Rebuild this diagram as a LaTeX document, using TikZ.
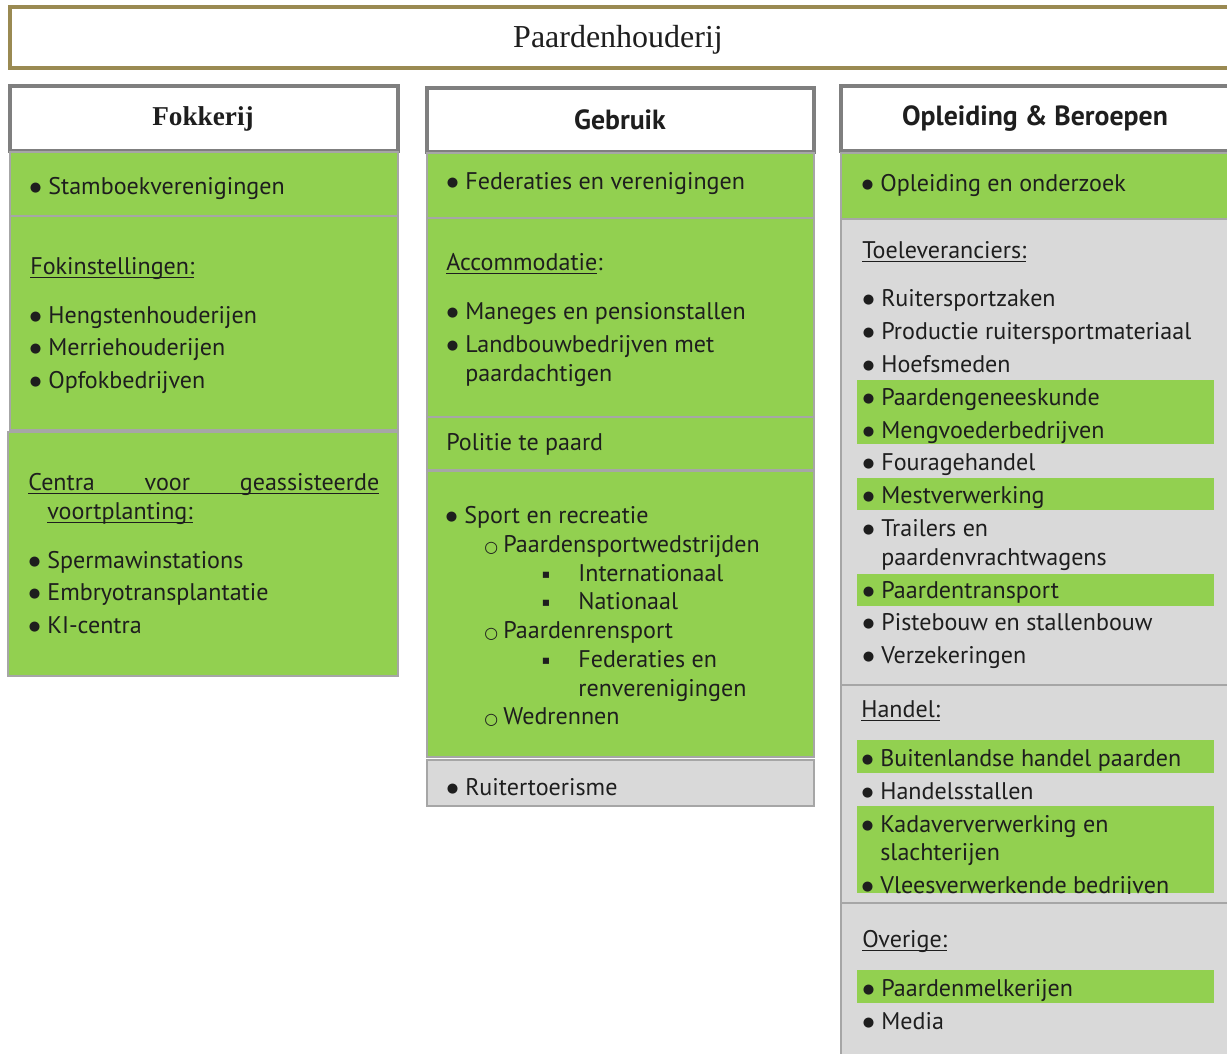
\documentclass[tikz,border=0pt]{standalone}
\usepackage{fontspec}
\setmainfont{PT Sans}
\newfontfamily\titlefont{Liberation Serif}
\newfontfamily\symfont{DejaVu Sans}
\definecolor{leaf}{HTML}{92D050}
\definecolor{paleg}{HTML}{D9D9D9}
\definecolor{edgegray}{HTML}{A6A6A6}
\definecolor{headgray}{HTML}{7F7F7F}
\definecolor{olive}{HTML}{9A8A52}
\definecolor{ink}{HTML}{1E1E1E}
% list marks, hung left of the text start
\newcommand\bul{\llap{\raisebox{2.2pt}{\symfont\fontsize{7.5}{8}\selectfont ●}\hskip 4pt}}
\newcommand\ring{\llap{{\symfont\fontsize{9}{9}\selectfont ○}\hskip 3pt}}
\newcommand\sq{\llap{\raisebox{2.2pt}{\symfont\fontsize{7}{7}\selectfont ▪}\hskip 16pt}}
\newcommand\ulbox[1]{\setbox0\hbox{#1}\rlap{\rule[-2pt]{\wd0}{0.6pt}}\box0}
\begin{document}
\begin{tikzpicture}[x=0.02cm, y=-0.02cm,
    box/.style={draw=edgegray, line width=0.6pt, fill=leaf},
    graybox/.style={draw=edgegray, line width=0.6pt, fill=paleg},
    band/.style={fill=leaf},
    head/.style={draw=headgray, line width=2.2pt, fill=white},
    headtext/.style={inner sep=0pt, text=ink, yshift=-0.06cm, font=\bfseries\fontsize{15.8}{18}\selectfont},
    item/.style={anchor=mid west, inner sep=0pt, text=ink, yshift=-0.07cm, font=\fontsize{13.7}{16}\selectfont}]
    \useasboundingbox (0,0) rectangle (1227,1054);

    % title
    \draw[draw=olive, line width=2.4pt, fill=white] (10,7) rectangle (1240,68);
    \node[headtext, font=\titlefont\fontsize{18.2}{20}\selectfont] (houderij) at (618,37) {Paardenhouderij};

    % Fokkerij
    \draw[head] (10,86) rectangle (398,151);
    \node[headtext, font=\titlefont\bfseries\fontsize{15.5}{18}\selectfont] (fokkerij) at (203,116) {Fokkerij};
    \draw[box] (10,152) rectangle (398,216);
    \node[item] (stamboek) at (48,187) {\bul Stamboekverenigingen};
    \draw[box] (10,216) rectangle (398,430);
    \node[item] (fokinst) at (30,267) {\ulbox{Fokinstellingen:}};
    \node[item] (hengst) at (48,316) {\bul Hengstenhouderijen};
    \node[item] (merrie) at (48,348) {\bul Merriehouderijen};
    \node[item] (opfok) at (48,381) {\bul Opfokbedrijven};
    \draw[box] (8,432) rectangle (398,676);
    \node[item] (centra) at (28,483) {\ulbox{\makebox[7.02cm][s]{Centra voor geassisteerde}}};
    \node[item] (voort) at (47,512) {\ulbox{voortplanting:}};
    \node[item] (sperma) at (47,561) {\bul Spermawinstations};
    \node[item] (embryo) at (47,593) {\bul Embryotransplantatie};
    \node[item] (ki) at (47,626) {\bul KI-centra};

    % Gebruik
    \draw[head] (427,88) rectangle (814,152);
    \node[headtext] (gebruik) at (620,117) {Gebruik};
    \draw[box] (427,153) rectangle (814,218);
    \node[item] (federaties) at (465,182) {\bul Federaties en verenigingen};
    \draw[box] (427,218) rectangle (814,417);
    \node[item] (accom) at (446,263) {\ulbox{Accommodatie}:};
    \node[item] (maneges) at (465,312) {\bul Maneges en pensionstallen};
    \node[item] (landbouw) at (465,345) {\bul Landbouwbedrijven met};
    \node[item] (paardacht) at (465,374) {paardachtigen};
    \draw[box] (427,417) rectangle (814,470);
    \node[item] (politie) at (446,443) {Politie te paard};
    \draw[box] (427,471) rectangle (814,757);
    \node[item] (sport) at (464,516) {\bul Sport en recreatie};
    \node[item] (wedstrijd) at (503,545) {\ring Paardensportwedstrijden};
    \node[item] (internat) at (578,574) {\sq Internationaal};
    \node[item] (nationaal) at (578,602) {\sq Nationaal};
    \node[item] (rensport) at (503,631) {\ring Paardenrensport};
    \node[item] (renfed) at (578,660) {\sq Federaties en};
    \node[item] (renver) at (578,689) {renverenigingen};
    \node[item] (wedren) at (503,717) {\ring Wedrennen};
    \draw[graybox] (427,760) rectangle (814,806);
    \node[item] (toerisme) at (465,788) {\bul Ruitertoerisme};

    % Opleiding & Beroepen
    \draw[head] (841,86) rectangle (1240,151);
    \node[headtext] (opleiding) at (1035,116) {Opleiding \& Beroepen};
    \draw[box] (841,153) rectangle (1240,219);
    \node[item] (onderzoek) at (880,184) {\bul Opleiding en onderzoek};
    \draw[graybox] (841,219) rectangle (1240,685);
    \fill[band] (857,380) rectangle (1214,444);
    \fill[band] (857,478) rectangle (1214,510);
    \fill[band] (857,574) rectangle (1214,606);
    \node[item] (toelev) at (862,251) {\ulbox{Toeleveranciers:}};
    \node[item] (ruiterzaak) at (881,299) {\bul Ruitersportzaken};
    \node[item] (productie) at (881,332) {\bul Productie ruitersportmateriaal};
    \node[item] (hoef) at (881,365) {\bul Hoefsmeden};
    \node[item] (genees) at (881,398) {\bul Paardengeneeskunde};
    \node[item] (mengvoer) at (881,431) {\bul Mengvoederbedrijven};
    \node[item] (fourage) at (881,463) {\bul Fouragehandel};
    \node[item] (mest) at (881,496) {\bul Mestverwerking};
    \node[item] (trailers) at (881,529) {\bul Trailers en};
    \node[item] (vracht) at (881,558) {paardenvrachtwagens};
    \node[item] (transport) at (881,591) {\bul Paardentransport};
    \node[item] (piste) at (881,623) {\bul Pistebouw en stallenbouw};
    \node[item] (verzek) at (881,656) {\bul Verzekeringen};
    \draw[graybox] (841,685) rectangle (1240,903);
    \fill[band] (857,740) rectangle (1214,773);
    \fill[band] (857,806) rectangle (1214,893);
    \node[item] (handel) at (861,710) {\ulbox{Handel:}};
    \node[item] (buitenl) at (880,759) {\bul Buitenlandse handel paarden};
    \node[item] (stallen) at (880,792) {\bul Handelsstallen};
    \node[item] (kadaver) at (880,825) {\bul Kadaververwerking en};
    \node[item] (slacht) at (880,853) {slachterijen};
    \begin{scope}
        \clip (857,806) rectangle (1214,893);
        \node[item] (vlees) at (880,886) {\bul Vleesverwerkende bedrijven};
    \end{scope}
    \draw[graybox] (841,903) rectangle (1240,1070);
    \fill[band] (857,970) rectangle (1214,1003);
    \node[item] (overige) at (862,940) {\ulbox{Overige:}};
    \node[item] (melk) at (881,989) {\bul Paardenmelkerijen};
    \node[item] (media) at (881,1022) {\bul Media};
\end{tikzpicture}
\end{document}
